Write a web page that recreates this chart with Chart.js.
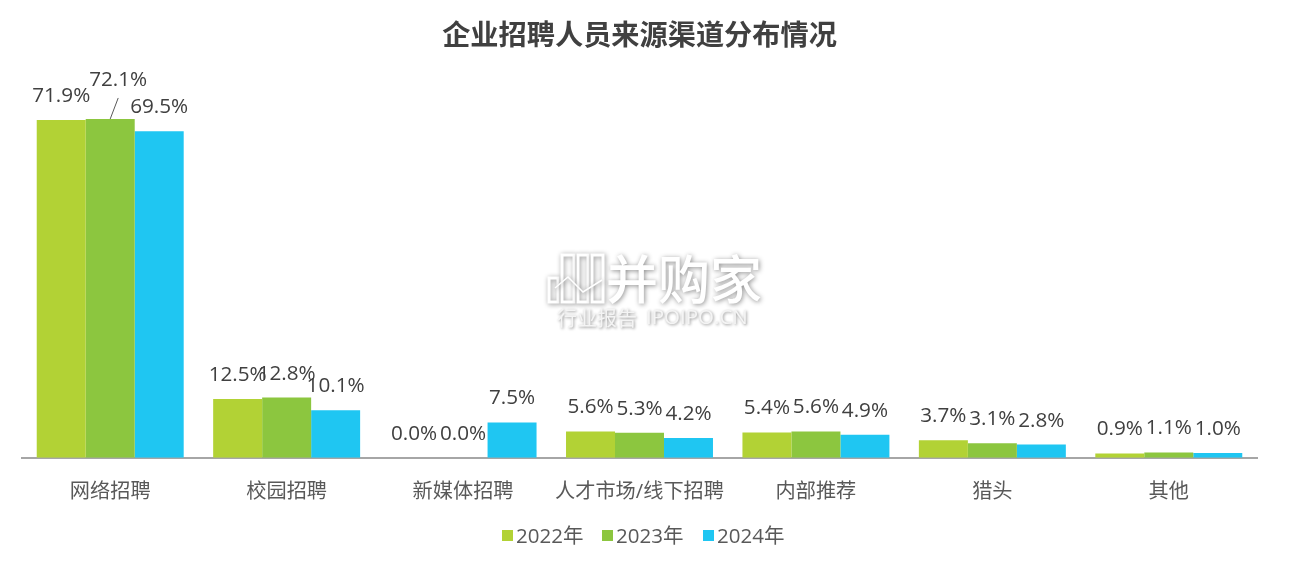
<!DOCTYPE html>
<html>
<head>
<meta charset="utf-8">
<script src="https://cdn.jsdelivr.net/npm/chart.js@4"></script>
<style>
  html, body { margin: 0; padding: 0; background: #fff; }
  #wrap { width: 1307px; height: 576px; }
</style>
</head>
<body>
<div id="wrap"><canvas id="chart"></canvas></div>
<script>
const categories = ['网络招聘', '校园招聘', '新媒体招聘', '人才市场/线下招聘', '内部推荐', '猎头', '其他'];
const years = ['2022年', '2023年', '2024年'];
const values2022 = [71.9, 12.5, 0.0, 5.6, 5.4, 3.7, 0.9];
const values2023 = [72.1, 12.8, 0.0, 5.3, 5.6, 3.1, 1.1];
const values2024 = [69.5, 10.1, 7.5, 4.2, 4.9, 2.8, 1.0];
const colors = ['#b2d235', '#8cc63f', '#1fc6f2'];

const FONT = '"Open Sans", "Noto Sans CJK SC", sans-serif';

// value labels above the bars, 72.1% is pulled up with a leader line
const barLabels = {
  id: 'barLabels',
  afterDatasetsDraw(chart) {
    const ctx = chart.ctx;
    ctx.save();
    ctx.font = '20.7px ' + FONT;
    ctx.fillStyle = '#404040';
    ctx.textAlign = 'center';
    ctx.textBaseline = 'middle';
    chart.data.datasets.forEach((ds, i) => {
      chart.getDatasetMeta(i).data.forEach((bar, j) => {
        let x = bar.x, y = bar.y - 24;
        if (i === 1 && j === 0) {
          x += 8; y -= 15;
          ctx.strokeStyle = '#595959';
          ctx.lineWidth = 1;
          ctx.beginPath();
          ctx.moveTo(bar.x + 8, bar.y - 21);
          ctx.lineTo(bar.x, bar.y);
          ctx.stroke();
        }
        ctx.fillText(ds.data[j].toFixed(1) + '%', x, y);
      });
    });
    ctx.restore();
  }
};

// legend drawn by hand, the built in one keeps too wide a gap after the box
const tightLegend = {
  id: 'tightLegend',
  afterDraw(chart) {
    const ctx = chart.ctx;
    const starts = [502, 602, 703];
    ctx.save();
    ctx.font = '20.5px ' + FONT;
    ctx.textBaseline = 'middle';
    chart.data.datasets.forEach((ds, i) => {
      ctx.fillStyle = ds.backgroundColor;
      ctx.fillRect(starts[i], 530, 11, 11);
      ctx.fillStyle = '#595959';
      ctx.fillText(ds.label, starts[i] + 14, 537);
    });
    ctx.restore();
  }
};

// site watermark in the middle of the plot
const watermark = {
  id: 'watermark',
  afterDraw(chart) {
    const ctx = chart.ctx;
    ctx.save();
    ctx.shadowColor = 'rgba(0,0,0,0.45)';
    ctx.shadowBlur = 5;
    ctx.shadowOffsetX = 1;
    ctx.shadowOffsetY = 1;
    ctx.fillStyle = '#ffffff';
    ctx.strokeStyle = '#ffffff';
    ctx.lineWidth = 3;
    ctx.textBaseline = 'middle';
    [[549, 278, 9, 24], [562, 255, 12, 47], [578, 255, 10, 47], [592, 255, 11, 47]].forEach(r => {
      ctx.strokeRect(r[0], r[1], r[2], r[3]);
    });
    ctx.lineWidth = 1.5;
    ctx.beginPath();
    ctx.moveTo(555, 288);
    ctx.lineTo(568, 277);
    ctx.lineTo(583, 292);
    ctx.lineTo(602, 280);
    ctx.stroke();
    ctx.font = '500 52px "Noto Sans CJK SC"';
    ctx.fillText('并购家', 606, 279);
    ctx.shadowBlur = 3;
    ctx.fillStyle = '#f4f4f4';
    ctx.font = '20px "Noto Sans CJK SC"';
    ctx.fillText('行业报告', 557, 318);
    ctx.font = '20.5px "Open Sans"';
    ctx.fillText('IPOIPO.CN', 646, 318);
    ctx.restore();
  }
};

new Chart(document.getElementById('chart'), {
  type: 'bar',
  data: {
    labels: categories,
    datasets: [
      { label: years[0], data: values2022, backgroundColor: colors[0] },
      { label: years[1], data: values2023, backgroundColor: colors[1] },
      { label: years[2], data: values2024, backgroundColor: colors[2] }
    ]
  },
  options: {
    responsive: true,
    maintainAspectRatio: false,
    animation: false,
    layout: { padding: { left: 22, right: 50, top: 20, bottom: 50 } },
    datasets: { bar: { categoryPercentage: 0.833, barPercentage: 1 } },
    scales: {
      x: {
        grid: { display: false, drawTicks: false },
        border: { color: '#a6a6a6', width: 2 },
        ticks: { color: '#595959', font: { family: FONT, size: 20.2 }, padding: 22, maxRotation: 0, autoSkip: false }
      },
      y: { display: false, min: 0, max: 80 }
    },
    plugins: {
      title: {
        display: true,
        text: '企业招聘人员来源渠道分布情况',
        color: '#404040',
        font: { family: FONT, size: 28.2, weight: 'bold' },
        padding: { top: 0, bottom: 28 }
      },
      legend: { display: false },
      tooltip: { enabled: false }
    }
  },
  plugins: [barLabels, tightLegend, watermark]
});
</script>
</body>
</html>
